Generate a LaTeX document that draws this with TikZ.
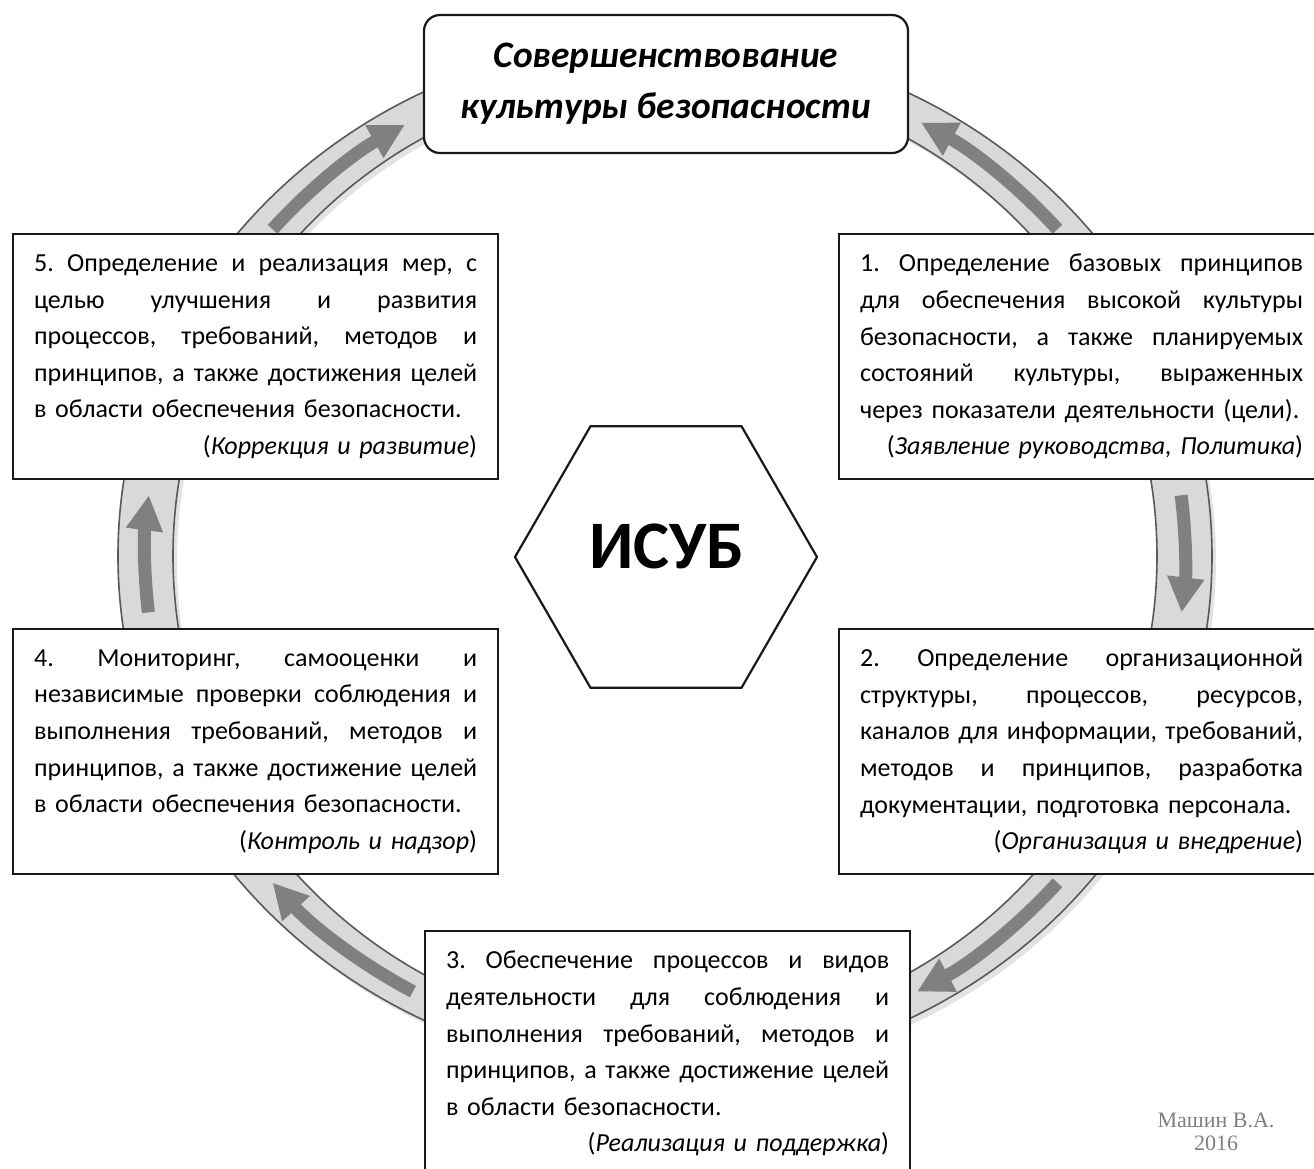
\documentclass[tikz,border=0pt]{standalone}
\usepackage{fontspec}
\setmainfont{Carlito}
\newfontfamily\signfont{Liberation Serif}
\usetikzlibrary{arrows.meta,shapes.geometric}

\definecolor{ringfill}{HTML}{D9D9D9}
\definecolor{ringline}{HTML}{595959}
\definecolor{ringshade}{HTML}{E3E3E3}
\definecolor{arrowgray}{HTML}{808080}
\definecolor{signgray}{HTML}{7F7F7F}

\newcommand{\jline}[1]{{\spaceskip=0pt\xspaceskip=0pt\makebox[\hsize][s]{#1}}}
\newcommand{\rline}[1]{\makebox[\hsize][r]{#1}}
\frenchspacing

\begin{document}
\begin{tikzpicture}[x=0.5pt,y=-0.5pt,
  >={Triangle[width=17.5pt,length=17.5pt]},
  ringarrow/.style={->,line width=6.5pt,draw=arrowgray},
  stagebox/.style={draw=black!90,line width=1.1pt,fill=white,anchor=north west,
    text width=221.5pt,inner xsep=10.5pt,inner ysep=0pt,minimum height=122.5pt,
    align=left,font=\fontsize{13}{18.3}\selectfont\frenchspacing},
  titlebox/.style={draw=black!90,line width=1.1pt,fill=white,rounded corners=8pt,
    minimum width=242pt,minimum height=69pt,align=center,
    font=\fontsize{18.7}{25.5}\selectfont\bfseries\itshape}]
\useasboundingbox (0,0) rectangle (1314,1169);

% ring with arrows
\fill[ringshade,even odd rule] (669,561) ellipse[x radius=547,y radius=517]
  (669,561) ellipse[x radius=492,y radius=480];
\filldraw[fill=ringfill,draw=ringline,line width=0.8pt,even odd rule]
  (665,556) ellipse[x radius=547,y radius=517] (665,556) ellipse[x radius=492,y radius=480];
\begin{scope}[shift={(665,556)}]
\foreach \from/\to in {-139/-120,-41/-60.5,-7/6.5,41/61,119/139,-186.5/-173}
  \draw[ringarrow] (\from:520 and 498) arc[start angle=\from,end angle=\to,x radius=520,y radius=498];
\end{scope}

\node[titlebox] (goal) at (666,84) {Совершенствование\\культуры безопасности};

\node[stagebox] (s1) at (838,233) {\jline{1. Определение базовых принципов}\\
  \jline{для обеспечения высокой культуры}\\
  \jline{безопасности, а также планируемых}\\
  \jline{состояний культуры, выраженных}\\
  через показатели деятельности (цели).\\
  \rline{(\textit{Заявление руководства, Политика})}};

\node[stagebox] (s2) at (838,628) {\jline{2. Определение организационной}\\
  \jline{структуры, процессов, ресурсов,}\\
  \jline{каналов для информации, требований,}\\
  \jline{методов и принципов, разработка}\\
  документации, подготовка персонала.\\
  \rline{(\textit{Организация и внедрение})}};

\node[stagebox] (s3) at (424,930) {\jline{3. Обеспечение процессов и видов}\\
  \jline{деятельности для соблюдения и}\\
  \jline{выполнения требований, методов и}\\
  \jline{принципов, а также достижение целей}\\
  в области безопасности.\\
  \rline{(\textit{Реализация и поддержка})}};

\node[stagebox] (s4) at (12,628) {\jline{4. Мониторинг, самооценки и}\\
  \jline{независимые проверки соблюдения и}\\
  \jline{выполнения требований, методов и}\\
  \jline{принципов, а также достижение целей}\\
  в области обеспечения безопасности.\\
  \rline{(\textit{Контроль и надзор})}};

\node[stagebox] (s5) at (12,233) {\jline{5. Определение и реализация мер, с}\\
  \jline{целью улучшения и развития}\\
  \jline{процессов, требований, методов и}\\
  \jline{принципов, а также достижения целей}\\
  в области обеспечения безопасности.\\
  \rline{(\textit{Коррекция и развитие})}};

\node[regular polygon,regular polygon sides=6,draw=black!90,line width=1.1pt,
  fill=white,minimum size=151pt,inner sep=0pt] (hex) at (666,557) {};
\node[font=\fontsize{34}{40}\selectfont\bfseries] (isub) at (667,546) {ИСУБ};

\node[font=\signfont\fontsize{11}{11.2}\selectfont,text=signgray,align=center] (sign)
  at (1216,1132) {Машин В.А.\\2016};
\end{tikzpicture}
\end{document}
